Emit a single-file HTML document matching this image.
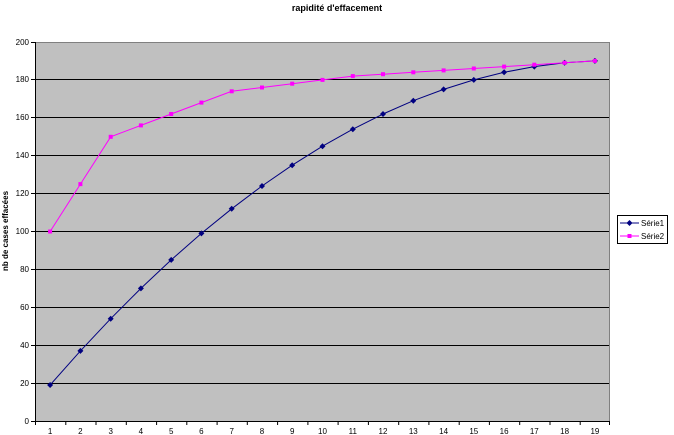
<!DOCTYPE html>
<html><head><meta charset="utf-8"><style>
html,body{margin:0;padding:0;background:#fff;}
svg{display:block;font-family:"Liberation Sans",Arial,sans-serif;}
</style></head><body>
<svg width="674" height="435" viewBox="0 0 674 435" xmlns="http://www.w3.org/2000/svg">
<rect x="0" y="0" width="674" height="435" fill="#fff"/>
<text x="337" y="11" text-anchor="middle" font-size="9" font-weight="bold">rapidité d'effacement</text>
<rect x="35" y="42" width="575" height="379" fill="#c0c0c0"/>
<g stroke="#000" stroke-width="1">
<line x1="35" y1="383.5" x2="610" y2="383.5"/>
<line x1="35" y1="345.5" x2="610" y2="345.5"/>
<line x1="35" y1="307.5" x2="610" y2="307.5"/>
<line x1="35" y1="269.5" x2="610" y2="269.5"/>
<line x1="35" y1="231.5" x2="610" y2="231.5"/>
<line x1="35" y1="193.5" x2="610" y2="193.5"/>
<line x1="35" y1="155.5" x2="610" y2="155.5"/>
<line x1="35" y1="117.5" x2="610" y2="117.5"/>
<line x1="35" y1="79.5" x2="610" y2="79.5"/>
</g>
<line x1="35" y1="42.5" x2="610" y2="42.5" stroke="#808080"/>
<line x1="609.5" y1="42" x2="609.5" y2="421" stroke="#808080"/>
<g stroke="#000">
<line x1="35.5" y1="42" x2="35.5" y2="421"/>
<line x1="31" y1="421.5" x2="610" y2="421.5"/>
<line x1="31" y1="383.5" x2="35" y2="383.5"/><line x1="31" y1="345.5" x2="35" y2="345.5"/>
<line x1="31" y1="307.5" x2="35" y2="307.5"/><line x1="31" y1="269.5" x2="35" y2="269.5"/>
<line x1="31" y1="231.5" x2="35" y2="231.5"/><line x1="31" y1="193.5" x2="35" y2="193.5"/>
<line x1="31" y1="155.5" x2="35" y2="155.5"/><line x1="31" y1="117.5" x2="35" y2="117.5"/>
<line x1="31" y1="79.5" x2="35" y2="79.5"/><line x1="31" y1="42.5" x2="35" y2="42.5"/>
<path d="M35.5 421v4M65.8 421v4M96 421v4M126.3 421v4M156.6 421v4M186.8 421v4M217.1 421v4M247.3 421v4M277.6 421v4M307.9 421v4M338.1 421v4M368.4 421v4M398.7 421v4M428.9 421v4M459.2 421v4M489.4 421v4M519.7 421v4M550 421v4M580.2 421v4M609.5 421v4"/>
</g>
<g font-size="8" text-anchor="end">
<text x="29" y="424">0</text><text x="29" y="386">20</text><text x="29" y="348">40</text>
<text x="29" y="310">60</text><text x="29" y="272">80</text><text x="29" y="234">100</text>
<text x="29" y="196">120</text><text x="29" y="158">140</text><text x="29" y="120">160</text>
<text x="29" y="82">180</text><text x="29" y="45">200</text>
</g>
<g font-size="8" text-anchor="middle">
<text x="50.1" y="434">1</text><text x="80.4" y="434">2</text><text x="110.7" y="434">3</text>
<text x="140.9" y="434">4</text><text x="171.2" y="434">5</text><text x="201.4" y="434">6</text>
<text x="231.7" y="434">7</text><text x="262" y="434">8</text><text x="292.2" y="434">9</text>
<text x="322.5" y="434">10</text><text x="352.8" y="434">11</text><text x="383" y="434">12</text>
<text x="413.3" y="434">13</text><text x="443.6" y="434">14</text><text x="473.8" y="434">15</text>
<text x="504.1" y="434">16</text><text x="534.3" y="434">17</text><text x="564.6" y="434">18</text>
<text x="594.9" y="434">19</text>
</g>
<text transform="translate(8,231) rotate(-90)" font-size="8" font-weight="bold" text-anchor="middle">nb de cases effacées</text>
<polyline fill="none" stroke="#000080" stroke-width="1" points="50.1,385 80.4,350.9 110.7,318.7 140.9,288.4 171.2,259.9 201.4,233.4 231.7,208.8 262,186 292.2,165.2 322.5,146.2 352.8,129.2 383,114 413.3,100.7 443.6,89.4 473.8,79.9 504.1,72.3 534.3,66.6 564.6,62.8 594.9,60.9"/>
<g fill="#000080">
<path d="M50.1 382l3 3-3 3-3-3zM80.4 347.9l3 3-3 3-3-3zM110.7 315.7l3 3-3 3-3-3zM140.9 285.4l3 3-3 3-3-3zM171.2 256.9l3 3-3 3-3-3zM201.4 230.4l3 3-3 3-3-3zM231.7 205.8l3 3-3 3-3-3zM262 183l3 3-3 3-3-3zM292.2 162.2l3 3-3 3-3-3zM322.5 143.2l3 3-3 3-3-3zM352.8 126.2l3 3-3 3-3-3zM383 111l3 3-3 3-3-3zM413.3 97.7l3 3-3 3-3-3zM443.6 86.4l3 3-3 3-3-3zM473.8 76.9l3 3-3 3-3-3zM504.1 69.3l3 3-3 3-3-3zM534.3 63.6l3 3-3 3-3-3zM564.6 59.8l3 3-3 3-3-3zM594.9 57.9l3 3-3 3-3-3z"/>
</g>
<polyline fill="none" stroke="#ff00ff" stroke-width="1" points="50.1,231.5 80.4,184.1 110.7,136.8 140.9,125.4 171.2,114 201.4,102.6 231.7,91.3 262,87.5 292.2,83.7 322.5,79.9 352.8,76.1 383,74.2 413.3,72.3 443.6,70.4 473.8,68.5 504.1,66.6 534.3,64.7 564.6,62.8 594.9,60.9"/>
<g fill="#ff00ff">
<rect x="48.1" y="229.5" width="4" height="4"/><rect x="78.4" y="182.1" width="4" height="4"/><rect x="108.7" y="134.8" width="4" height="4"/>
<rect x="138.9" y="123.4" width="4" height="4"/><rect x="169.2" y="112" width="4" height="4"/><rect x="199.4" y="100.6" width="4" height="4"/>
<rect x="229.7" y="89.3" width="4" height="4"/><rect x="260" y="85.5" width="4" height="4"/><rect x="290.2" y="81.7" width="4" height="4"/>
<rect x="320.5" y="77.9" width="4" height="4"/><rect x="350.8" y="74.1" width="4" height="4"/><rect x="381" y="72.2" width="4" height="4"/>
<rect x="411.3" y="70.3" width="4" height="4"/><rect x="441.6" y="68.4" width="4" height="4"/><rect x="471.8" y="66.5" width="4" height="4"/>
<rect x="502.1" y="64.6" width="4" height="4"/><rect x="532.3" y="62.7" width="4" height="4"/><rect x="562.6" y="60.8" width="4" height="4"/>
<rect x="592.9" y="58.9" width="4" height="4"/>
</g>
<rect x="617.5" y="215.5" width="50" height="28" fill="#fff" stroke="#000"/>
<line x1="620" y1="223" x2="639" y2="223" stroke="#000080"/>
<path d="M629.5 220l3 3-3 3-3-3z" fill="#000080"/>
<text x="641" y="226" font-size="8">Série1</text>
<line x1="620" y1="236" x2="639" y2="236" stroke="#ff00ff"/>
<rect x="627.5" y="234" width="4" height="4" fill="#ff00ff"/>
<text x="641" y="239" font-size="8">Série2</text>
</svg>
</body></html>
